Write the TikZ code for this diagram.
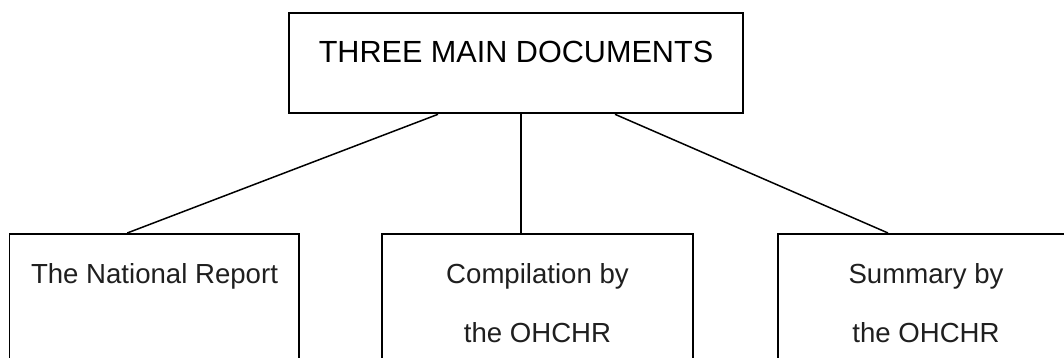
\documentclass[tikz,border=0pt]{standalone}
\usepackage{fontspec}
\setmainfont{Liberation Sans}
\begin{document}
\begin{tikzpicture}[x=1pt,y=-1pt,
  topbox/.style={draw=black,line width=2.6pt,minimum width=454pt,minimum height=100pt,inner sep=0pt},
  subbox/.style={draw=black,line width=1.6pt,minimum height=180pt,inner sep=0pt},
  toptext/.style={anchor=base,inner sep=0pt,font=\fontsize{30.6}{36}\selectfont},
  subtext/.style={anchor=base,inner sep=0pt,text=black!88,font=\fontsize{27.6}{33}\selectfont},
  link/.style={draw=black,line width=1.5pt}]
\useasboundingbox (0,0) rectangle (1064,358);
\clip (0,0) rectangle (1064,358);
% boxes
\node[topbox] (top) at (516,63) {};
\node[subbox,minimum width=289.5pt,anchor=north] (nr) at (154.25,233) {};
\node[subbox,minimum width=311pt,anchor=north] (co) at (537.5,233) {};
\node[subbox,minimum width=296pt,anchor=north] (su) at (926,233) {};
% texts
\node[toptext] (toplbl) at (516,63) {THREE MAIN DOCUMENTS};
\node[subtext] (nrlbl) at (154.5,283) {The National Report};
\node[subtext] (colbla) at (537.5,283) {Compilation by};
\node[subtext] (colblb) at (537.5,342) {the OHCHR};
\node[subtext] (sulbla) at (926,283) {Summary by};
\node[subtext] (sulblb) at (926,342) {the OHCHR};
% connectors
\draw[link] ([xshift=-78pt]top.south) -- ([xshift=-27pt]nr.north);
\draw[link] ([xshift=5pt]top.south) -- ([xshift=-16.5pt]co.north);
\draw[link] ([xshift=99pt]top.south) -- ([xshift=-38pt]su.north);
\end{tikzpicture}
\end{document}
